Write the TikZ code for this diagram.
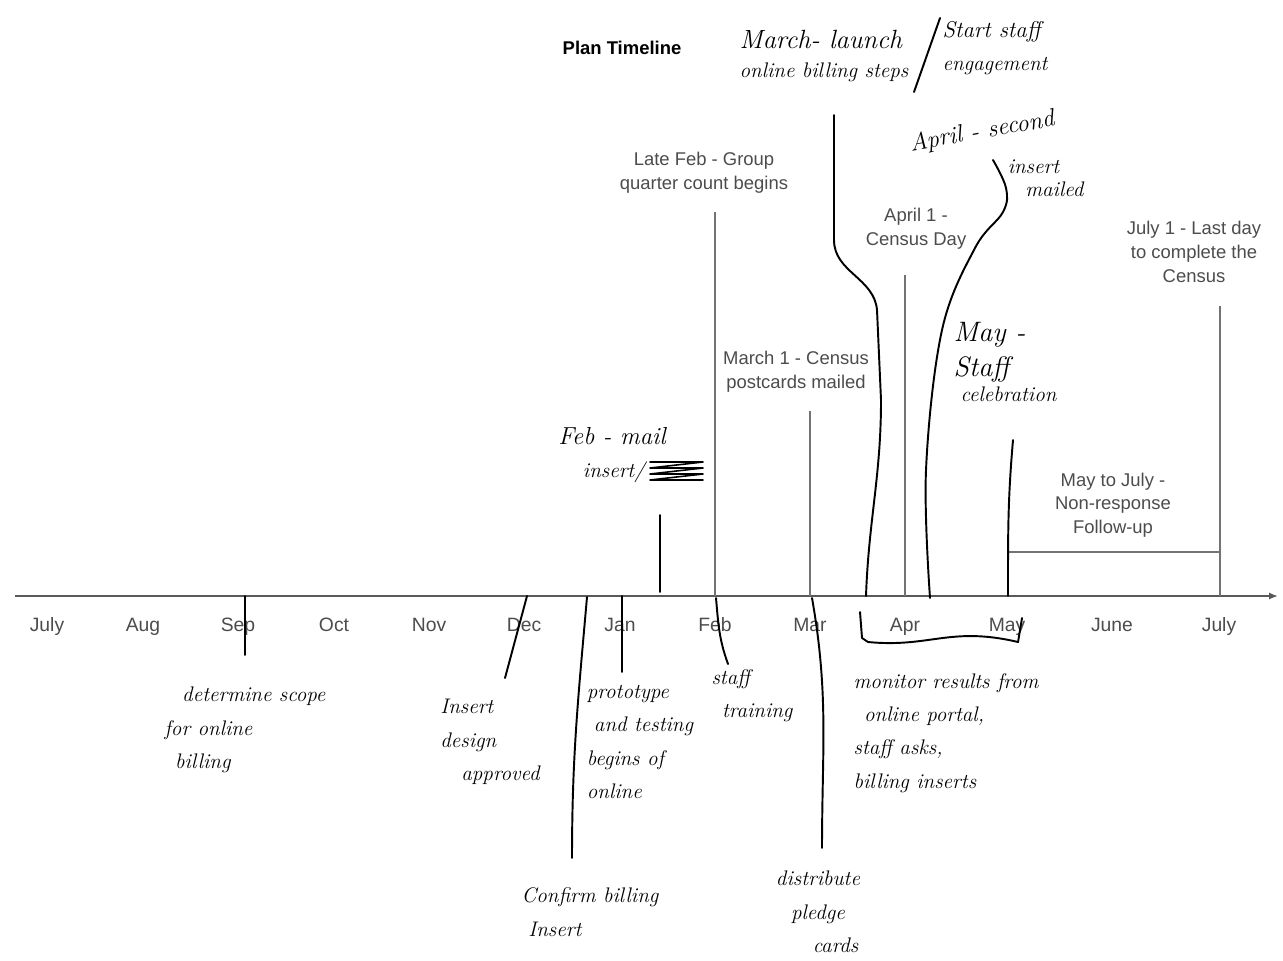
\documentclass[tikz,border=0pt]{standalone}
\usepackage{fontspec}
\setsansfont{Liberation Sans}
\usetikzlibrary{arrows.meta, positioning}

\tikzset{
    printed/.style={font=\sffamily\fontsize{10.5}{13.5}\selectfont, text=black!70, align=center},
    month/.style={font=\sffamily\fontsize{11}{13}\selectfont, text=black!70, anchor=base},
    hand/.style={font=\rmfamily\itshape\fontsize{12}{19}\selectfont, align=left, inner sep=0pt},
    handbig/.style={font=\rmfamily\itshape\fontsize{16}{20}\selectfont, align=left, inner sep=0pt},
    tick/.style={draw=black!55, line width=0.6pt},
    pen/.style={line width=1.1pt, line cap=round, line join=round},
}

\begin{document}
\begin{tikzpicture}[x=0.02cm, y=-0.02cm]
    \useasboundingbox (0,0) rectangle (1283,960);

    % axis and months
    \coordinate (axisstart) at (15,596);
    \coordinate (axisend) at (1278,596);
    \draw[black!65, line width=1.2pt, -{Latex[length=5pt,width=4pt]}] (axisstart) -- (axisend);
    \foreach \m/\x [count=\i] in {July/47, Aug/143, Sep/238, Oct/334, Nov/429, Dec/524,
        Jan/620, Feb/715, Mar/810, Apr/905, May/1007, June/1112, July/1219}
        \node[month] (m\i) at (\x,631) {\m};

    \node[font=\sffamily\bfseries\fontsize{10.5}{13}\selectfont] (title) at (622,48) {Plan Timeline};

    % printed events
    \node[printed] (latefeb) at (704,173) {Late Feb - Group\\quarter count begins};
    \coordinate (latefebtop) at (715,212);
    \coordinate (latefebaxis) at (715,596);
    \draw[tick] (latefebtop) -- (latefebaxis);

    \node[printed] (postcards) at (796,372) {March 1 - Census\\postcards mailed};
    \coordinate (postcardstop) at (810,411);
    \coordinate (postcardsaxis) at (810,596);
    \draw[tick] (postcardstop) -- (postcardsaxis);

    \node[printed] (censusday) at (916,229) {April 1 -\\Census Day};
    \coordinate (censusdaytop) at (905,275);
    \coordinate (censusdayaxis) at (905,596);
    \draw[tick] (censusdaytop) -- (censusdayaxis);

    \node[printed] (lastday) at (1194,252) {July 1 - Last day\\to complete the\\Census};
    \coordinate (lastdaytop) at (1220,306);
    \coordinate (lastdayaxis) at (1220,596);
    \draw[tick] (lastdaytop) -- (lastdayaxis);

    \node[printed] (followup) at (1113,505) {May to July -\\Non-response\\Follow-up};
    \coordinate (followupl) at (1008,552);
    \coordinate (followupr) at (1220,552);
    \draw[tick] (followupl) -- (followupr);

    % handwritten notes above the axis
    \node[handbig] (launch) at (824,56) {\fontsize{15}{20}\selectfont March- launch\\[-4pt]{\fontsize{12}{14}\selectfont online billing steps}};
    \node[hand] (engage) at (995,48) {\fontsize{13}{19}\selectfont Start staff\\engagement};
    \coordinate (slashtop) at (940,18);
    \coordinate (slashbot) at (914,92);
    \draw[pen] (slashtop) -- (slashbot);

    \node[hand, rotate=10] (second) at (982,132) {\fontsize{14}{16}\selectfont April - second};
    \node[hand] (insertmailed) at (1042,178) {\hspace{4pt}insert\\[-6pt]\hspace{14pt}mailed};

    \node[handbig] (celebrate) at (1005,362) {May -\\Staff\\[-6pt]{\fontsize{12}{14}\selectfont \hspace{4pt}celebration}};

    \node[hand] (febmail) at (612,455) {\fontsize{14}{18}\selectfont Feb - mail\\\hspace{14pt}insert/};
    \coordinate (scribblel) at (650,462);
    \coordinate (scribbler) at (703,480);
    \draw[pen, line width=0.9pt] (scribblel) -- (703,462) -- (650,468) -- (703,468) -- (650,474) -- (703,474) -- (650,480) -- (scribbler);

    % handwritten notes below the axis
    \node[hand] (scope) at (245,730) {\hspace{10pt}determine scope\\for online\\\hspace{6pt}billing};
    \node[hand] (design) at (490,742) {Insert\\design\\\hspace{12pt}approved};
    \node[hand] (proto) at (640,742) {prototype\\\hspace{4pt}and testing\\begins of\\online};
    \node[hand] (training) at (752,696) {staff\\\hspace{6pt}training};
    \node[hand, align=center] (confirm) at (590,912) {Confirm billing\\\hspace{-40pt}Insert};
    \node[hand, align=center] (pledge) at (818,912) {distribute\\pledge\\\hspace{20pt}cards};
    \node[hand] (monitor) at (946,733) {monitor results from\\\hspace{6pt}online portal,\\staff asks,\\billing inserts};

    % hand-drawn pointers
    \coordinate (septop) at (245,596);
    \coordinate (sepbot) at (245,655);
    \draw[pen] (septop) -- (sepbot);

    \coordinate (dectop) at (527,596);
    \coordinate (decbot) at (505,678);
    \draw[pen] (dectop) -- (decbot);

    \coordinate (confirmtop) at (587,597);
    \coordinate (confirmbot) at (572,858);
    \draw[pen] (confirmtop) to[out=-95,in=90] (confirmbot);

    \coordinate (jantop) at (622,596);
    \coordinate (janbot) at (622,672);
    \draw[pen] (jantop) -- (janbot);

    \coordinate (febmailtop) at (660,515);
    \coordinate (febmailaxis) at (660,592);
    \draw[pen] (febmailtop) -- (febmailaxis);

    \coordinate (trainingtop) at (716,598);
    \coordinate (trainingbot) at (728,664);
    \draw[pen] (trainingtop) to[out=-85,in=110] (trainingbot);

    \coordinate (pledgetop) at (812,598);
    \coordinate (pledgebot) at (822,848);
    \draw[pen] (pledgetop) to[out=-80,in=90] (pledgebot);

    \coordinate (launchtop) at (834,115);
    \coordinate (launchaxis) at (866,596);
    \draw[pen] (launchtop) -- (834,240) to[out=-90,in=95] (877,310) -- (881,400)
        to[out=-90,in=88] (launchaxis);

    \coordinate (secondtop) at (993,160);
    \coordinate (secondaxis) at (930,598);
    \draw[pen] plot[smooth, tension=0.6] coordinates {(secondtop) (1006,188) (1003,212)
        (975,248) (942,330) (926,470) (secondaxis)};

    \coordinate (celebratebot) at (1013,440);
    \coordinate (celebrateaxis) at (1008,596);
    \draw[pen] (celebratebot) to[out=-95,in=90] (celebrateaxis);

    \coordinate (bracel) at (860,612);
    \coordinate (bracer) at (1022,618);
    \draw[pen] (bracel) -- (862,638) -- (868,642) .. controls (930,648) and (950,626) .. (1018,642) -- (bracer);
\end{tikzpicture}
\end{document}
